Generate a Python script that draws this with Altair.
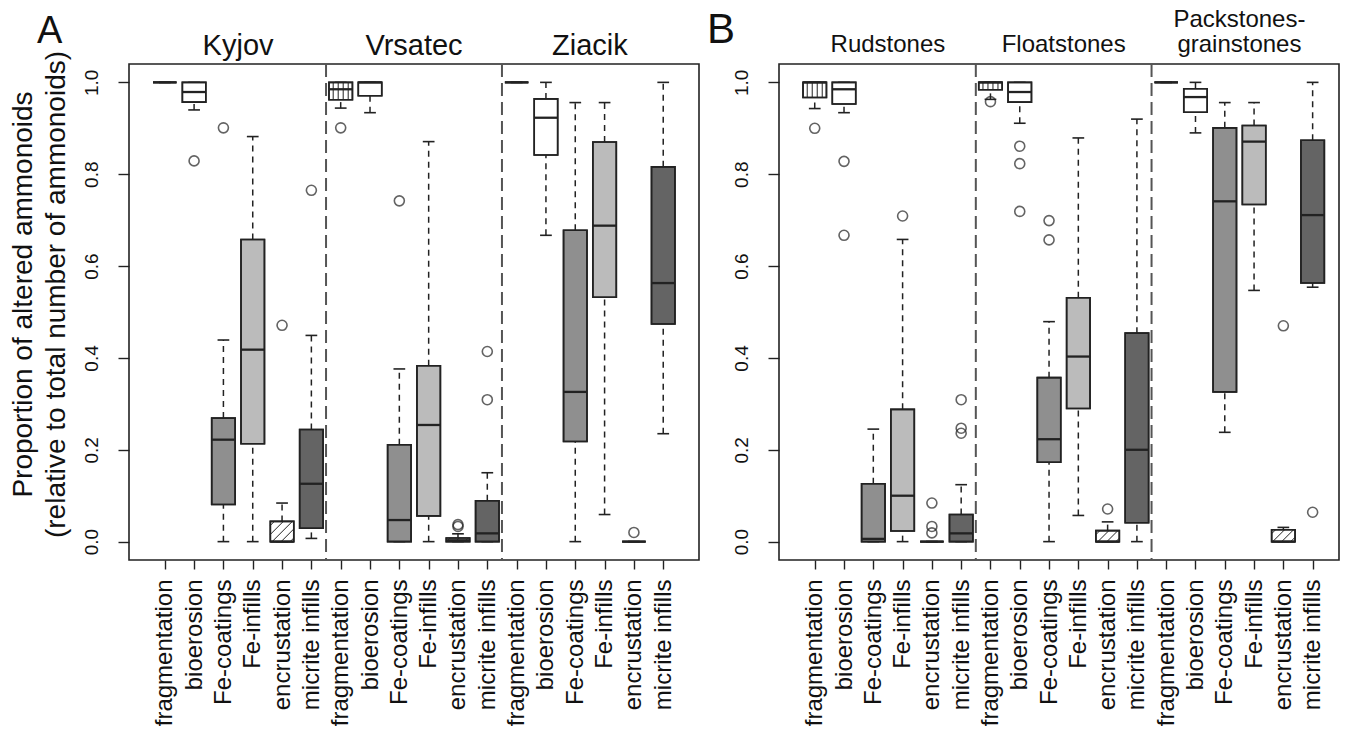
import altair as alt
import pandas as pd

# ---------------- data ----------------
treatments = ["fragmentation", "bioerosion", "Fe-coatings", "Fe-infills",
              "encrustation", "micrite infills"]
fills = ["#ffffff", "#ffffff", "#8f8f8f", "#bbbbbb", "#ffffff", "#646464"]
hatch = ["vertical", "none", "none", "none", "diagonal", "none"]

groups_A = ["Kyjov", "Vrsatec", "Ziacik"]
low_A = [1.000, 0.940, 0.000, 0.000, 0.000, 0.007,
         0.944, 0.934, 0.000, 0.000, 0.000, 0.000,
         1.000, 0.667, 0.000, 0.059, 0.000, 0.235]
q1_A = [1.000, 0.957, 0.081, 0.213, 0.000, 0.029,
        0.962, 0.971, 0.000, 0.056, 0.000, 0.000,
        1.000, 0.842, 0.218, 0.532, 0.000, 0.474]
med_A = [1.000, 0.979, 0.222, 0.418, 0.000, 0.126,
         0.985, 1.000, 0.047, 0.254, 0.003, 0.018,
         1.000, 0.923, 0.326, 0.688, 0.000, 0.563]
q3_A = [1.000, 1.000, 0.269, 0.658, 0.044, 0.244,
        1.000, 1.000, 0.211, 0.383, 0.008, 0.089,
        1.000, 0.964, 0.678, 0.870, 0.000, 0.816]
high_A = [1.000, 1.000, 0.439, 0.882, 0.084, 0.449,
          1.000, 1.000, 0.376, 0.871, 0.017, 0.150,
          1.000, 1.000, 0.956, 0.956, 0.000, 1.000]
out_A = [[], [0.829], [0.901], [], [0.471], [0.765],
         [0.901], [], [0.742], [], [0.033, 0.037], [0.309, 0.414],
         [], [], [], [], [0.020], []]

groups_B = ["Rudstones", "Floatstones", "Packstones-\ngrainstones"]
low_B = [0.943, 0.934, 0.000, 0.000, 0.000, 0.000,
         0.963, 0.911, 0.000, 0.057, 0.000, 0.000,
         1.000, 0.890, 0.238, 0.547, 0.000, 0.554]
q1_B = [0.967, 0.953, 0.000, 0.023, 0.000, 0.000,
        0.984, 0.957, 0.173, 0.290, 0.000, 0.041,
        1.000, 0.935, 0.326, 0.734, 0.000, 0.563]
med_B = [1.000, 0.985, 0.006, 0.100, 0.000, 0.018,
         1.000, 0.979, 0.223, 0.403, 0.000, 0.200,
         1.000, 0.968, 0.741, 0.871, 0.000, 0.711]
q3_B = [1.000, 1.000, 0.126, 0.288, 0.000, 0.059,
        1.000, 1.000, 0.357, 0.531, 0.024, 0.454,
        1.000, 0.986, 0.901, 0.906, 0.026, 0.874]
high_B = [1.000, 1.000, 0.245, 0.658, 0.000, 0.124,
          1.000, 1.000, 0.479, 0.879, 0.043, 0.920,
          1.000, 1.000, 0.956, 0.956, 0.031, 1.000]
out_B = [[0.900], [0.828, 0.667], [], [0.709], [0.084, 0.033, 0.019], [0.309, 0.247, 0.236],
         [0.958], [0.861, 0.823, 0.719], [0.699, 0.657], [], [0.071], [],
         [], [], [], [], [0.470], [0.064]]

FONT = "Liberation Sans"
INK = "#222222"
H = 496
YDOM = [-0.04, 1.04]


def panel(low, q1, med, q3, high, outs, groups, W, xdom, letter, letter_x,
          letter_y, letter_size, gsize, gy, glh, ytitle):
    pxx = W / (xdom[1] - xdom[0])
    pxy = H / (YDOM[1] - YDOM[0])
    n = len(low)
    df = pd.DataFrame({
        "pos": list(range(1, n + 1)),
        "low": low, "q1": q1, "med": med, "q3": q3, "high": high,
    })
    df["fill"] = [fills[i % 6] for i in range(n)]
    df["x0"] = df["pos"] - 0.4
    df["x1"] = df["pos"] + 0.4
    df["c0"] = df["pos"] - 0.2
    df["c1"] = df["pos"] + 0.2

    orows = [{"pos": i + 1, "v": v} for i, vs in enumerate(outs) for v in vs]
    odf = pd.DataFrame(orows)

    # hatch segments derived from the box statistics
    hrows = []
    for i in range(n):
        kind = hatch[i % 6]
        p, a, b = i + 1, q1[i], q3[i]
        if b <= a:
            continue
        if kind == "vertical":
            for off in [-7.5, -2.5, 2.5, 7.5]:
                x = p + off / pxx
                hrows.append({"x": x, "x2": x, "y": a, "y2": b})
        elif kind == "diagonal":
            wpx = 0.8 * pxx
            hpx = (b - a) * pxy
            c = -hpx + 4
            while c < wpx:
                u0 = max(0.0, c)
                u1 = min(wpx, hpx + c)
                if u1 > u0:
                    hrows.append({"x": p - 0.4 + u0 / pxx, "x2": p - 0.4 + u1 / pxx,
                                  "y": a + (u0 - c) / pxy, "y2": a + (u1 - c) / pxy})
                c += 9.0
    hdf = pd.DataFrame(hrows, columns=["x", "x2", "y", "y2"])

    gdf = pd.DataFrame({"name": groups,
                        "center": [3.5 + 6 * k for k in range(len(groups))]})
    sdf = pd.DataFrame({"sep": [6.5 + 6 * k for k in range(len(groups) - 1)]})

    xs = alt.Scale(domain=xdom, nice=False, zero=False)
    ys = alt.Scale(domain=YDOM, nice=False, zero=False)
    label_expr = "[" + ",".join("'%s'" % t for t in treatments) + "][(datum.value-1)%6]"

    xaxis = alt.Axis(values=list(range(1, n + 1)), labelExpr=label_expr,
                     labelAngle=270, labelAlign="right", labelBaseline="middle",
                     labelFontSize=24, labelFont=FONT, labelColor="#111",
                     labelPadding=10, labelOverlap=False, labelFlush=False,
                     tickSize=9, tickColor=INK, tickWidth=1.4,
                     domain=False, grid=False, title=None)
    yargs = dict(values=[0, 0.2, 0.4, 0.6, 0.8, 1.0], format=".1f",
                 labelAngle=270, labelAlign="center", labelBaseline="alphabetic",
                 labelFontSize=19, labelFont=FONT, labelColor="#111",
                 labelPadding=21, labelFlush=False,
                 tickSize=11, tickColor=INK, tickWidth=1.4,
                 domain=False, grid=False)
    if ytitle:
        yaxis = alt.Axis(title=ytitle, titleFont=FONT, titleFontSize=28,
                         titleFontWeight="normal", titleColor="#111",
                         titleAngle=270, titleX=-106, titleY=230,
                         titleAlign="center", titleBaseline="middle",
                         titleLineHeight=33, **yargs)
    else:
        yaxis = alt.Axis(title=None, **yargs)

    def X(f):
        return alt.X(f, type="quantitative", scale=xs, axis=xaxis)

    def Y(f):
        return alt.Y(f, type="quantitative", scale=ys, axis=yaxis)

    base = alt.Chart(df)
    up = base.transform_filter("datum.high > datum.q3").mark_rule(
        stroke=INK, strokeWidth=1.5, strokeDash=[6, 5]).encode(
        x=X("pos"), y=Y("q3"), y2="high:Q")
    dn = base.transform_filter("datum.low < datum.q1").mark_rule(
        stroke=INK, strokeWidth=1.5, strokeDash=[6, 5]).encode(
        x=X("pos"), y=Y("low"), y2="q1:Q")
    cap_hi = base.mark_rule(stroke=INK, strokeWidth=1.6).encode(
        x=X("c0"), x2="c1:Q", y=Y("high"))
    cap_lo = base.mark_rule(stroke=INK, strokeWidth=1.6).encode(
        x=X("c0"), x2="c1:Q", y=Y("low"))
    boxes = base.mark_rect(stroke=INK, strokeWidth=1.6).encode(
        x=X("x0"), x2="x1:Q", y=Y("q1"), y2="q3:Q",
        fill=alt.Fill("fill:N", scale=None))
    hatch_l = alt.Chart(hdf).mark_rule(stroke=INK, strokeWidth=1.0).encode(
        x=X("x"), x2="x2:Q", y=Y("y"), y2="y2:Q")
    outline = base.mark_rect(stroke=INK, strokeWidth=1.6, fillOpacity=0).encode(
        x=X("x0"), x2="x1:Q", y=Y("q1"), y2="q3:Q")
    medians = base.mark_rule(stroke=INK, strokeWidth=2.3).encode(
        x=X("x0"), x2="x1:Q", y=Y("med"))
    outl = alt.Chart(odf).mark_point(shape="circle", filled=False, size=100,
                                     stroke=INK, strokeWidth=1.6).encode(
        x=X("pos"), y=Y("v"))
    seps = alt.Chart(sdf).mark_rule(stroke="#555555", strokeWidth=2,
                                    strokeDash=[13, 6]).encode(
        x=X("sep"), y=alt.value(0), y2=alt.value(H))
    gt1 = alt.Chart(gdf).transform_filter(
        "indexof(datum.name, '\\n') < 0").mark_text(
        font=FONT, fontSize=gsize, color="#111", baseline="alphabetic").encode(
        x=X("center"), y=alt.value(gy), text="name:N")
    gt2 = alt.Chart(gdf).transform_filter(
        "indexof(datum.name, '\\n') >= 0").mark_text(
        font=FONT, fontSize=gsize, color="#111", baseline="alphabetic",
        lineBreak="\n", lineHeight=glh).encode(
        x=X("center"), y=alt.value(gy - glh), text="name:N")
    let = alt.Chart(pd.DataFrame({"t": [letter]})).mark_text(
        font=FONT, fontSize=letter_size, color="#111", align="left",
        baseline="alphabetic").encode(
        x=alt.value(letter_x), y=alt.value(letter_y), text="t:N")

    return alt.layer(seps, up, dn, cap_hi, cap_lo, boxes, hatch_l,
                     outline, medians, outl, gt1, gt2, let).properties(
        width=W, height=H)


pA = panel(low_A, q1_A, med_A, q3_A, high_A, out_A, groups_A, 570, [-0.22, 19.22],
           "A", -92, -21, 38, 29, -9, 30,
           ["Proportion of altered ammonoids", "(relative to total number of ammonoids)"])
pB = panel(low_B, q1_B, med_B, q3_B, high_B, out_B, groups_B, 560, [-0.22, 18.9],
           "B", -72, -21, 42, 24, -12, 25, None)

chart = alt.hconcat(pA, pB, spacing=6).properties(
    padding={"left": 0, "top": -1, "right": 0, "bottom": 0}).configure_view(
    stroke=INK, strokeWidth=1.6)

chart.save("out.html", embed_options={"renderer": "svg", "actions": False})
